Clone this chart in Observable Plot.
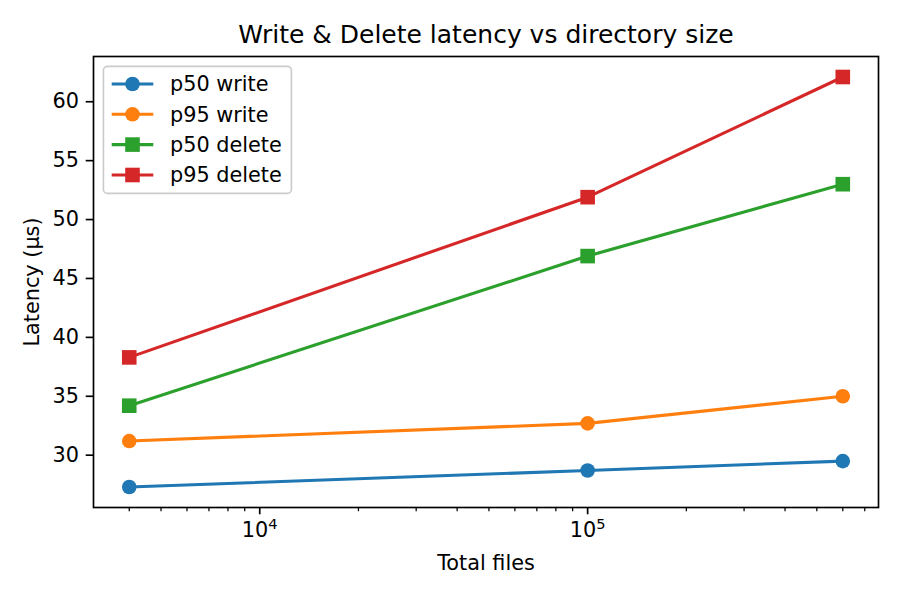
<!DOCTYPE html>
<html>
<head>
<meta charset="utf-8">
<script src="https://cdn.jsdelivr.net/npm/d3@7"></script>
<script src="https://cdn.jsdelivr.net/npm/@observablehq/plot@0.6"></script>
<style>
  html, body { margin: 0; padding: 0; background: white; }
  #wrap { position: relative; width: 900px; height: 600px; }
  #wrap svg { position: absolute; left: 0; top: 0; }
</style>
</head>
<body>
<div id="wrap"></div>
<script>
// ---- data ----
const xValues = [4000, 100000, 600000];
const p50Write = [27.3, 28.7, 29.5];
const p95Write = [31.2, 32.7, 35.0];
const p50Delete = [34.2, 46.9, 53.0];
const p95Delete = [38.3, 51.9, 62.1];
const seriesNames = ["p50 write", "p95 write", "p50 delete", "p95 delete"];
const seriesValues = [p50Write, p95Write, p50Delete, p95Delete];
const seriesColors = ["#1f77b4", "#ff7f0e", "#2ca02c", "#d62728"];
const seriesSymbols = ["circle", "circle", "square", "square"];
const yTicks = [30, 35, 40, 45, 50, 55, 60];
const xMajorTicks = [1e4, 1e5];
const xTickBase = ["10", "10"];
const xTickExp = ["4", "5"];
const xMinorTicks = [4000, 5000, 6000, 7000, 8000, 9000,
  20000, 30000, 40000, 50000, 60000, 70000, 80000, 90000,
  200000, 300000, 400000, 500000, 600000, 700000];
const titleText = "Write & Delete latency vs directory size";
const xLabel = "Total files";
const yLabel = "Latency (μs)";

// ---- layout ----
const W = 900, H = 600;
const mL = 93, mR = 22, mT = 56, mB = 93;
const font = "DejaVu Sans";

const marks = [];
seriesNames.forEach((name, i) => {
  const rows = xValues.map((x, j) => ({x, y: seriesValues[i][j], series: name}));
  marks.push(Plot.line(rows, {x: "x", y: "y", stroke: seriesColors[i], strokeWidth: 3.1}));
  marks.push(Plot.dot(rows, {
    x: "x", y: "y", fill: seriesColors[i], stroke: "none",
    symbol: seriesSymbols[i], r: seriesSymbols[i] === "square" ? 8.24 : 7.3
  }));
});

const chart = Plot.plot({
  width: W, height: H,
  marginLeft: mL, marginRight: mR, marginTop: mT, marginBottom: mB,
  style: {fontFamily: font, fontSize: "20.8px", background: "white", color: "black", overflow: "visible"},
  x: {type: "log", domain: [3112, 771000]},
  y: {domain: [25.56, 63.84]},
  marks: [
    Plot.axisX({ticks: xMinorTicks, tickSize: 4.2, strokeWidth: 1.25, text: null, label: null}),
    Plot.axisX({ticks: xMajorTicks, tickSize: 7.3, tickPadding: 7.3, strokeWidth: 1.67,
      tickFormat: d => "EXP" + xMajorTicks.indexOf(d), fontSize: 20.8, label: null}),
    Plot.axisY({ticks: yTicks, tickSize: 7.3, tickPadding: 7.3, strokeWidth: 1.67,
      tickFormat: d => String(d), fontSize: 20.8, label: null}),
    ...marks,
    Plot.frame({stroke: "black", strokeWidth: 1.67}),
    Plot.text([titleText], {text: d => d, frameAnchor: "top", dy: -22, fontSize: 25, lineAnchor: "middle"}),
    Plot.text([xLabel], {text: d => d, frameAnchor: "bottom", dy: 56, fontSize: 20.8, lineAnchor: "middle"}),
    Plot.text([yLabel], {text: d => d, frameAnchor: "left", dx: -61, rotate: -90, textAnchor: "middle", fontSize: 20.8, lineAnchor: "middle"})
  ]
});
document.getElementById("wrap").appendChild(chart);

// render major x tick labels as base with raised exponent (like 10^4)
d3.select(chart).selectAll("text").each(function () {
  const t = this.textContent;
  const m = /^EXP(\d+)$/.exec(t);
  if (!m) return;
  const k = +m[1];
  const sel = d3.select(this);
  sel.text(null);
  sel.append("tspan").text(xTickBase[k]);
  sel.append("tspan").attr("dy", -7.7).attr("font-size", 14.6).text(xTickExp[k]);
});

// ---- legend overlay ----
const leg = d3.select("#wrap").append("svg")
  .attr("width", W).attr("height", H)
  .style("pointer-events", "none")
  .style("font-family", font);
const lx = 103.4, ly = 66.4, lw = 188, lh = 127;
leg.append("rect").attr("x", lx).attr("y", ly).attr("width", lw).attr("height", lh)
  .attr("rx", 4).attr("ry", 4)
  .attr("fill", "white").attr("fill-opacity", 0.8)
  .attr("stroke", "#cccccc").attr("stroke-width", 1.67);
const rowY = [84, 114.3, 144.6, 175];
seriesNames.forEach((name, i) => {
  const g = leg.append("g");
  const cy = rowY[i];
  g.append("line").attr("x1", 111.7).attr("x2", 153.3).attr("y1", cy).attr("y2", cy)
    .attr("stroke", seriesColors[i]).attr("stroke-width", 3.1);
  if (seriesSymbols[i] === "circle") {
    g.append("circle").attr("cx", 132.5).attr("cy", cy).attr("r", 7.3).attr("fill", seriesColors[i]);
  } else {
    g.append("rect").attr("x", 132.5 - 7.3).attr("y", cy - 7.3).attr("width", 14.6).attr("height", 14.6)
      .attr("fill", seriesColors[i]);
  }
  g.append("text").attr("x", 170).attr("y", cy).attr("dy", "0.35em")
    .attr("font-size", 20.8).attr("fill", "black").text(name);
});
</script>
</body>
</html>
